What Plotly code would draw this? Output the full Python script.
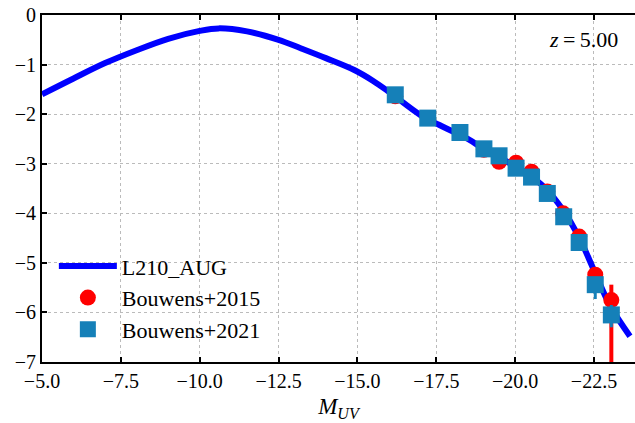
import plotly.graph_objects as go

# Model curve L210_AUG
model_M = [-5.0, -6.0, -7.0, -8.0, -9.0, -10.0, -10.6, -11.5, -12.5, -13.2, -14.0, -14.9,
           -15.5, -16.0, -17.0, -17.6, -18.5, -19.0, -20.0, -20.5, -21.0, -21.5, -22.0,
           -22.5, -23.0, -23.64]
model_phi = [-1.60, -1.28, -0.97, -0.71, -0.48, -0.32, -0.27, -0.33, -0.50, -0.67, -0.87, -1.11,
             -1.33, -1.55, -2.02, -2.22, -2.50, -2.70, -3.05, -3.25, -3.52, -3.92, -4.45,
             -5.15, -5.85, -6.48]

# Bouwens+2015
b15_M = [-16.20, -17.23, -18.25, -19.01, -19.49, -20.03, -20.52, -21.02, -21.52, -22.03, -22.54, -23.05]
b15_phi = [-1.64, -2.08, -2.38, -2.72, -2.96, -2.98, -3.16, -3.56, -4.00, -4.47, -5.24, -5.75]
b15_err_up = [0.05, 0.05, 0.05, 0.05, 0.05, 0.05, 0.06, 0.07, 0.08, 0.10, 0.15, 0.31]
b15_err_dn = [0.05, 0.05, 0.05, 0.05, 0.05, 0.05, 0.06, 0.07, 0.08, 0.12, 0.20, 2.00]

# Bouwens+2021
b21_M = [-16.20, -17.23, -18.25, -19.01, -19.49, -20.03, -20.52, -21.02, -21.54, -22.03, -22.54, -23.05]
b21_phi = [-1.61, -2.08, -2.37, -2.70, -2.84, -3.09, -3.27, -3.60, -4.07, -4.59, -5.44, -6.05]
b21_err_up = [0.04, 0.04, 0.04, 0.04, 0.04, 0.04, 0.05, 0.05, 0.06, 0.08, 0.15, 0.20]
b21_err_dn = [0.04, 0.04, 0.04, 0.04, 0.04, 0.04, 0.05, 0.05, 0.06, 0.08, 0.29, 0.25]

x_ticks = [-5.0, -7.5, -10.0, -12.5, -15.0, -17.5, -20.0, -22.5]
y_ticks = [0, -1, -2, -3, -4, -5, -6, -7]

FONT = "Liberation Serif"

fig = go.Figure()
fig.add_trace(go.Scatter(
    x=model_M, y=model_phi, mode="lines", name="L210_AUG",
    line=dict(color="#0000ff", width=6, shape="spline"), legendgroup="a"))
fig.add_trace(go.Scatter(
    x=b15_M, y=b15_phi, mode="markers", name="Bouwens+2015",
    marker=dict(symbol="circle", color="#ff0000", size=16),
    error_y=dict(type="data", symmetric=False, array=b15_err_up, arrayminus=b15_err_dn,
                 color="#ff0000", thickness=4, width=0),
    legendgroup="b"))
fig.add_trace(go.Scatter(
    x=b21_M, y=b21_phi, mode="markers", name="Bouwens+2021",
    marker=dict(symbol="square", color="#1580b8", size=17),
    error_y=dict(type="data", symmetric=False, array=b21_err_up, arrayminus=b21_err_dn,
                 color="#1580b8", thickness=3, width=0),
    legendgroup="c"))

axis_common = dict(
    showgrid=True, gridcolor="#bbbbbb", griddash="dot", gridwidth=1.3,
    showline=True, linecolor="black", linewidth=2,
    ticks="inside", ticklen=5, tickwidth=1.5, tickcolor="black",
    tickfont=dict(family=FONT, size=20, color="black"),
    zeroline=False,
)

fig.update_xaxes(
    range=[-5.0, -23.8], tickvals=x_ticks, ticktext=[f"\u2212{abs(v):.1f}" for v in x_ticks],
    mirror="ticks",
    title=dict(text="<i>M<sub>UV</sub></i>", font=dict(family=FONT, size=23, color="black"), standoff=7),
    **axis_common)
fig.update_yaxes(
    range=[-7, 0], tickvals=y_ticks, ticktext=["0" if v == 0 else f"\u2212{abs(v)}" for v in y_ticks],
    mirror=False,
    **axis_common)

fig.add_annotation(
    x=0.975, y=0.928, xref="paper", yref="paper", xanchor="right", yanchor="middle",
    text="<i>z</i>\u2009=\u20095.00", showarrow=False, font=dict(family=FONT, size=22, color="black"))

fig.update_layout(
    width=635, height=423,
    margin=dict(l=42, r=0, t=15, b=61),
    plot_bgcolor="white", paper_bgcolor="white",
    font=dict(family=FONT, size=20, color="black"),
    legend=dict(x=0.02, y=0.034, xanchor="left", yanchor="bottom",
                bgcolor="rgba(0,0,0,0)", borderwidth=0, itemwidth=58,
                tracegroupgap=0, font=dict(family=FONT, size=22, color="black")),
    showlegend=True,
)

fig.write_html("out.html")
